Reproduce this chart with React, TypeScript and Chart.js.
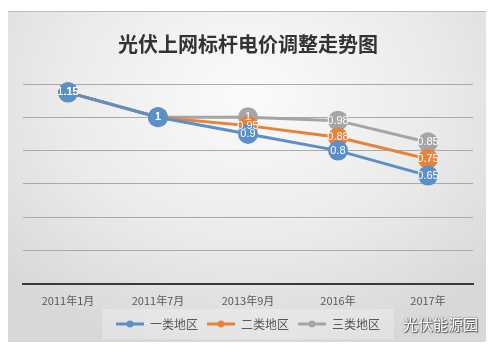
import React, { useEffect, useRef } from "react";
import { Chart, registerables } from "chart.js";

Chart.register(...registerables);

const categories = ["2011年1月", "2011年7月", "2013年9月", "2016年", "2017年"];
const seriesNames = ["一类地区", "二类地区", "三类地区"];
const region1 = [1.15, 1, 0.9, 0.8, 0.65];
const region2 = [1.15, 1, 0.95, 0.88, 0.75];
const region3 = [1.15, 1, 1, 0.98, 0.85];
const colors = ["#5b8fc7", "#e8823a", "#a5a5a5"];
const yTicks = [0, 0.2, 0.4, 0.6, 0.8, 1.0, 1.2];

function legendIcon(color: string) {
  const c = document.createElement("canvas");
  c.width = 28;
  c.height = 10;
  const ctx = c.getContext("2d")!;
  ctx.strokeStyle = color;
  ctx.lineWidth = 3;
  ctx.beginPath();
  ctx.moveTo(0, 5);
  ctx.lineTo(28, 5);
  ctx.stroke();
  ctx.fillStyle = color;
  ctx.beginPath();
  ctx.arc(14, 5, 3.5, 0, Math.PI * 2);
  ctx.fill();
  return c;
}

const labelPlugin = {
  id: "pointLabels",
  afterDatasetsDraw(chart: any) {
    const ctx = chart.ctx;
    ctx.save();
    ctx.font = "11px 'Liberation Sans', Arial, sans-serif";
    ctx.fillStyle = "#ffffff";
    ctx.textAlign = "center";
    ctx.textBaseline = "middle";
    chart.data.datasets.forEach((ds: any, i: number) => {
      const meta = chart.getDatasetMeta(i);
      meta.data.forEach((pt: any, j: number) => {
        ctx.fillText(String(ds.data[j]), pt.x, pt.y);
      });
    });
    ctx.restore();
  },
};

const legendBgPlugin = {
  id: "legendBg",
  beforeDraw(chart: any) {
    const lg = chart.legend;
    if (!lg || !lg.legendHitBoxes || !lg.legendHitBoxes.length) return;
    const boxes = lg.legendHitBoxes;
    const x0 = boxes[0].left - 14;
    const last = boxes[boxes.length - 1];
    const x1 = last.left + last.width + 14;
    const ctx = chart.ctx;
    ctx.save();
    ctx.fillStyle = "rgba(255,255,255,0.25)";
    ctx.fillRect(x0, boxes[0].top - 9, x1 - x0, boxes[0].height + 18);
    ctx.restore();
  },
};

export default function App() {
  const ref = useRef<HTMLCanvasElement>(null);
  useEffect(() => {
    const series = [region1, region2, region3];
    const chart = new Chart(ref.current!, {
      type: "line",
      data: {
        labels: categories,
        datasets: series.map((d, i) => ({
          label: seriesNames[i],
          data: d,
          borderColor: colors[i],
          backgroundColor: colors[i],
          borderWidth: 3,
          pointRadius: 10,
          pointBorderWidth: 0,
          pointBackgroundColor: colors[i],
          pointStyle: "circle",
          tension: 0,
          clip: false as any,
        })),
      },
      options: {
        animation: false,
        responsive: false,
        maintainAspectRatio: false,
        layout: { padding: { left: 15, right: 13, top: 0, bottom: 2 } },
        plugins: {
          title: {
            display: true,
            text: "光伏上网标杆电价调整走势图",
            color: "#333333",
            font: { size: 20, weight: "bold", family: "'Noto Sans CJK SC', sans-serif" },
            padding: { top: 20, bottom: 28 },
          },
          legend: {
            position: "bottom",
            labels: {
              usePointStyle: true,
              pointStyleWidth: 28,
              color: "#595959",
              font: { size: 12, family: "'Noto Sans CJK SC', sans-serif" },
              boxWidth: 28,
              boxHeight: 10,
              padding: 9,
              generateLabels: (ch: any) =>
                ch.data.datasets.map((ds: any, i: number) => ({
                  text: ds.label,
                  fillStyle: colors[i],
                  strokeStyle: colors[i],
                  lineWidth: 0,
                  pointStyle: legendIcon(colors[i]),
                  datasetIndex: i,
                  fontColor: "#595959",
                })),
            },
          },
          tooltip: { enabled: false },
        },
        scales: {
          x: {
            offset: true,
            grid: { display: false },
            border: { display: true, color: "#3a3a3a", width: 2 },
            ticks: {
              color: "#595959",
              font: { size: 11, family: "'Noto Sans CJK SC', sans-serif" },
              padding: 2,
            },
          },
          y: {
            display: true,
            min: 0,
            max: 1.2,
            afterBuildTicks: (axis: any) => {
              axis.ticks = yTicks.map((v) => ({ value: v }));
            },
            ticks: { display: false },
            border: { display: false },
            grid: {
              drawTicks: false,
              color: (c: any) => (c.tick && c.tick.value === 0 ? "rgba(0,0,0,0)" : "#a9a9a9"),
              lineWidth: 1,
            },
          },
        },
      },
      plugins: [labelPlugin, legendBgPlugin],
    });
    return () => chart.destroy();
  }, []);

  return (
    <div
      style={{
        position: "relative",
        width: 478,
        height: 331,
        marginTop: 3,
        background:
          "radial-gradient(ellipse 70% 80% at 50% 25%, #fbfbfb 0%, #ebebeb 55%, #d8d8d8 100%)",
        borderTop: "1px solid #bdbdbd",
        boxSizing: "border-box",
      }}
    >
      <canvas ref={ref} width={478} height={330} style={{ display: "block" }} />
      <div
        style={{
          position: "absolute",
          right: 8,
          bottom: 8,
          color: "#ffffff",
          fontFamily: "'Noto Sans CJK SC', sans-serif",
          fontSize: 15,
          textShadow: "0 0 2px #555, 1px 1px 1px #555",
        }}
      >
        光伏能源园
      </div>
    </div>
  );
}
